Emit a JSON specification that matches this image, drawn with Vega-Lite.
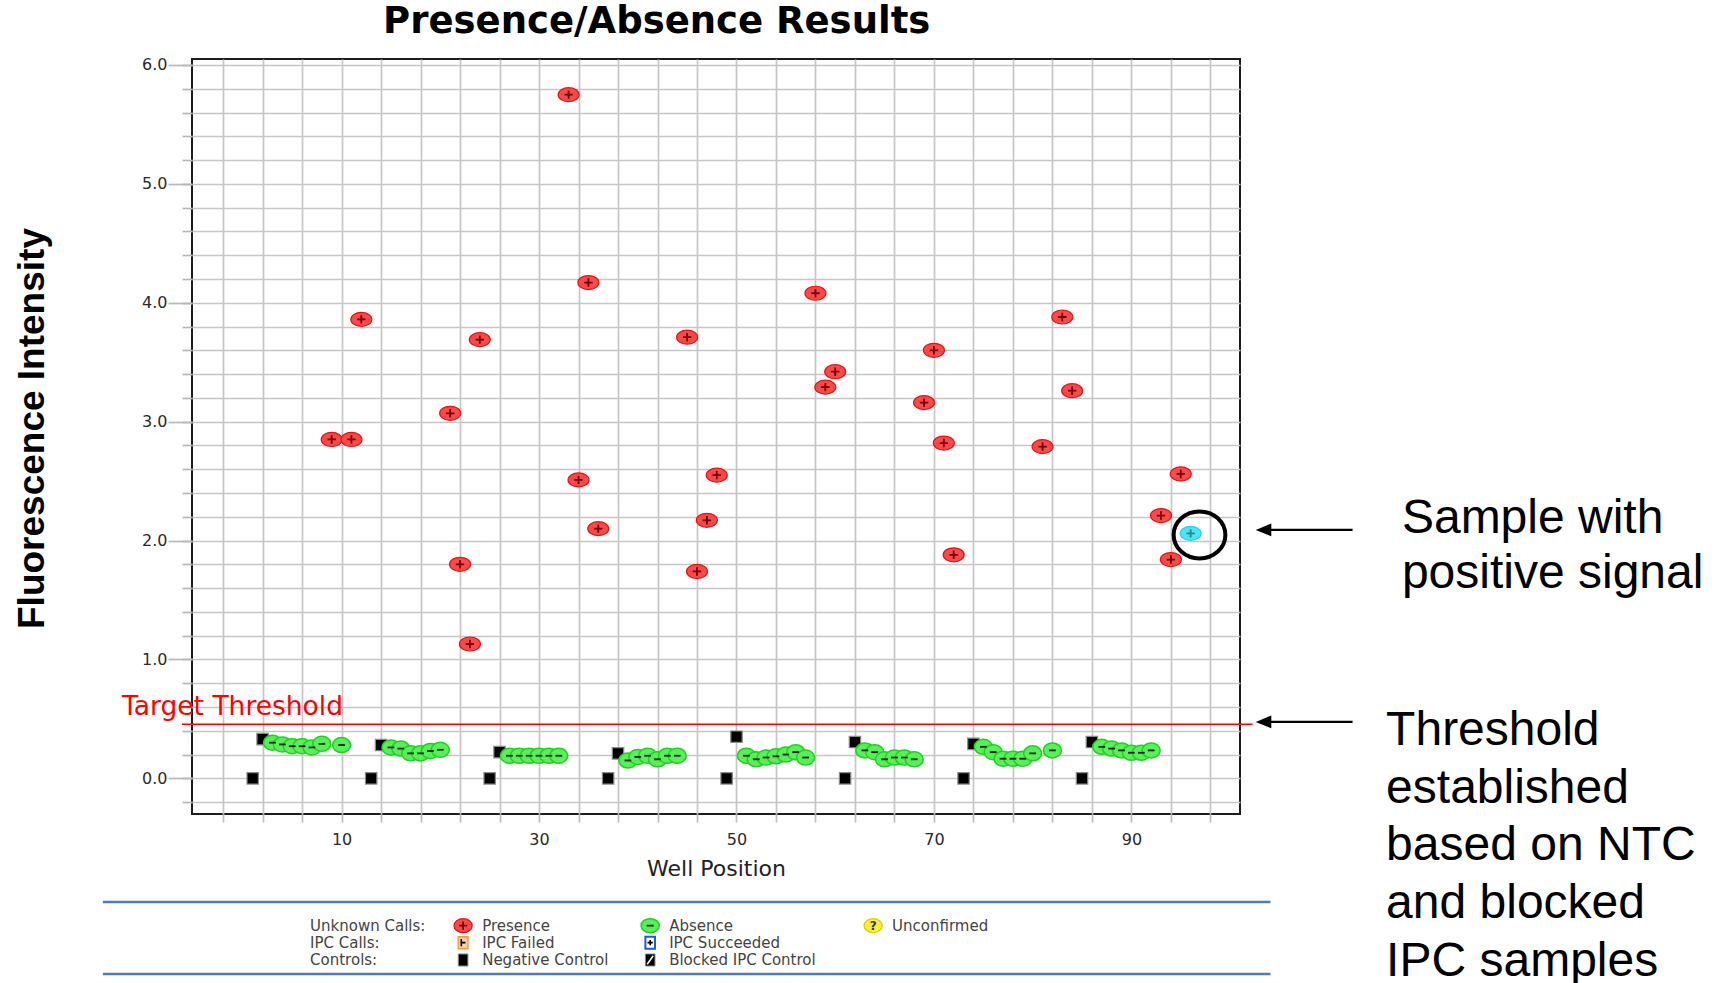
{
  "$schema": "https://vega.github.io/schema/vega-lite/v6.json",
  "width": 1048,
  "height": 755,
  "autosize": {"type": "none"},
  "padding": {"left": 192, "top": 59, "right": 480, "bottom": 169},
  "background": "white",
  "config": {"view": {"stroke": "#1c1c1c", "strokeWidth": 2}, "point": {"opacity": 1}, "text": {"font": "DejaVu Sans"}, "axis": {"labelOverlap": false}},
  "datasets": {
    "wells": [
      {"well": 1, "value": 0.0, "call": "Negative Control"},
      {"well": 2, "value": 0.33, "call": "Blocked IPC Control"},
      {"well": 3, "value": 0.30, "call": "Absence"},
      {"well": 4, "value": 0.285, "call": "Absence"},
      {"well": 5, "value": 0.27, "call": "Absence"},
      {"well": 6, "value": 0.27, "call": "Absence"},
      {"well": 7, "value": 0.26, "call": "Absence"},
      {"well": 8, "value": 0.29, "call": "Absence"},
      {"well": 9, "value": 2.85, "call": "Presence"},
      {"well": 10, "value": 0.28, "call": "Absence"},
      {"well": 11, "value": 2.85, "call": "Presence"},
      {"well": 12, "value": 3.86, "call": "Presence"},
      {"well": 13, "value": 0.0, "call": "Negative Control"},
      {"well": 14, "value": 0.28, "call": "Blocked IPC Control"},
      {"well": 15, "value": 0.26, "call": "Absence"},
      {"well": 16, "value": 0.25, "call": "Absence"},
      {"well": 17, "value": 0.21, "call": "Absence"},
      {"well": 18, "value": 0.21, "call": "Absence"},
      {"well": 19, "value": 0.23, "call": "Absence"},
      {"well": 20, "value": 0.24, "call": "Absence"},
      {"well": 21, "value": 3.07, "call": "Presence"},
      {"well": 22, "value": 1.80, "call": "Presence"},
      {"well": 23, "value": 1.13, "call": "Presence"},
      {"well": 24, "value": 3.69, "call": "Presence"},
      {"well": 25, "value": 0.0, "call": "Negative Control"},
      {"well": 26, "value": 0.22, "call": "Blocked IPC Control"},
      {"well": 27, "value": 0.19, "call": "Absence"},
      {"well": 28, "value": 0.19, "call": "Absence"},
      {"well": 29, "value": 0.19, "call": "Absence"},
      {"well": 30, "value": 0.19, "call": "Absence"},
      {"well": 31, "value": 0.19, "call": "Absence"},
      {"well": 32, "value": 0.19, "call": "Absence"},
      {"well": 33, "value": 5.75, "call": "Presence"},
      {"well": 34, "value": 2.51, "call": "Presence"},
      {"well": 35, "value": 4.17, "call": "Presence"},
      {"well": 36, "value": 2.10, "call": "Presence"},
      {"well": 37, "value": 0.0, "call": "Negative Control"},
      {"well": 38, "value": 0.21, "call": "Blocked IPC Control"},
      {"well": 39, "value": 0.15, "call": "Absence"},
      {"well": 40, "value": 0.18, "call": "Absence"},
      {"well": 41, "value": 0.19, "call": "Absence"},
      {"well": 42, "value": 0.16, "call": "Absence"},
      {"well": 43, "value": 0.19, "call": "Absence"},
      {"well": 44, "value": 0.19, "call": "Absence"},
      {"well": 45, "value": 3.71, "call": "Presence"},
      {"well": 46, "value": 1.74, "call": "Presence"},
      {"well": 47, "value": 2.17, "call": "Presence"},
      {"well": 48, "value": 2.55, "call": "Presence"},
      {"well": 49, "value": 0.0, "call": "Negative Control"},
      {"well": 50, "value": 0.35, "call": "Blocked IPC Control"},
      {"well": 51, "value": 0.19, "call": "Absence"},
      {"well": 52, "value": 0.16, "call": "Absence"},
      {"well": 53, "value": 0.175, "call": "Absence"},
      {"well": 54, "value": 0.185, "call": "Absence"},
      {"well": 55, "value": 0.20, "call": "Absence"},
      {"well": 56, "value": 0.22, "call": "Absence"},
      {"well": 57, "value": 0.175, "call": "Absence"},
      {"well": 58, "value": 4.08, "call": "Presence"},
      {"well": 59, "value": 3.29, "call": "Presence"},
      {"well": 60, "value": 3.42, "call": "Presence"},
      {"well": 61, "value": 0.0, "call": "Negative Control"},
      {"well": 62, "value": 0.305, "call": "Blocked IPC Control"},
      {"well": 63, "value": 0.235, "call": "Absence"},
      {"well": 64, "value": 0.22, "call": "Absence"},
      {"well": 65, "value": 0.16, "call": "Absence"},
      {"well": 66, "value": 0.175, "call": "Absence"},
      {"well": 67, "value": 0.175, "call": "Absence"},
      {"well": 68, "value": 0.16, "call": "Absence"},
      {"well": 69, "value": 3.16, "call": "Presence"},
      {"well": 70, "value": 3.60, "call": "Presence"},
      {"well": 71, "value": 2.82, "call": "Presence"},
      {"well": 72, "value": 1.88, "call": "Presence"},
      {"well": 73, "value": 0.0, "call": "Negative Control"},
      {"well": 74, "value": 0.29, "call": "Blocked IPC Control"},
      {"well": 75, "value": 0.265, "call": "Absence"},
      {"well": 76, "value": 0.22, "call": "Absence"},
      {"well": 77, "value": 0.165, "call": "Absence"},
      {"well": 78, "value": 0.165, "call": "Absence"},
      {"well": 79, "value": 0.165, "call": "Absence"},
      {"well": 80, "value": 0.21, "call": "Absence"},
      {"well": 81, "value": 2.79, "call": "Presence"},
      {"well": 82, "value": 0.235, "call": "Absence"},
      {"well": 83, "value": 3.88, "call": "Presence"},
      {"well": 84, "value": 3.26, "call": "Presence"},
      {"well": 85, "value": 0.0, "call": "Negative Control"},
      {"well": 86, "value": 0.305, "call": "Blocked IPC Control"},
      {"well": 87, "value": 0.265, "call": "Absence"},
      {"well": 88, "value": 0.25, "call": "Absence"},
      {"well": 89, "value": 0.235, "call": "Absence"},
      {"well": 90, "value": 0.215, "call": "Absence"},
      {"well": 91, "value": 0.215, "call": "Absence"},
      {"well": 92, "value": 0.235, "call": "Absence"},
      {"well": 93, "value": 2.21, "call": "Presence"},
      {"well": 94, "value": 1.84, "call": "Presence"},
      {"well": 95, "value": 2.56, "call": "Presence"},
      {"well": 96, "value": 2.06, "call": "Selected"}
    ]
  },
  "resolve": {"axis": {"y": "independent"}},
  "layer": [
    {
      "data": {"name": "wells"},
      "mark": {"type": "point", "opacity": 0},
      "encoding": {
        "y": {
          "field": "value", "type": "quantitative",
          "scale": {"domain": [-0.3, 6.05], "nice": false, "zero": false},
          "axis": {
            "orient": "left",
            "values": [-0.2, 0, 0.2, 0.4, 0.6, 0.8, 1, 1.2, 1.4, 1.6, 1.8, 2, 2.2, 2.4, 2.6, 2.8, 3, 3.2, 3.4, 3.6, 3.8, 4, 4.2, 4.4, 4.6, 4.8, 5, 5.2, 5.4, 5.6, 5.8, 6],
            "grid": true, "gridColor": "#c6c6c6", "gridWidth": 1.7,
            "domain": false, "ticks": true, "tickColor": "#b8b8b8", "tickWidth": 1.7, "tickSize": 10,
            "labels": false, "title": null
          }
        }
      }
    },
    {
      "layer": [
        {
          "data": {"name": "wells"},
          "transform": [{"filter": "datum.call === 'Negative Control' || datum.call === 'Blocked IPC Control'"}],
          "mark": {"type": "point", "shape": "square", "filled": true, "size": 130, "fill": "#000000", "stroke": "#8a8a8a", "strokeWidth": 1.2},
          "encoding": {
            "x": {
              "field": "well", "type": "quantitative",
              "scale": {"domain": [-5.15, 101], "nice": false, "zero": false},
              "axis": {
                "values": [-2, 2, 6, 10, 14, 18, 22, 26, 30, 34, 38, 42, 46, 50, 54, 58, 62, 66, 70, 74, 78, 82, 86, 90, 94, 98],
                "grid": true, "gridColor": "#c6c6c6", "gridWidth": 1.7,
                "domain": false, "ticks": true, "tickColor": "#bdbdbd", "tickWidth": 1.7, "tickSize": 8,
                "labelExpr": "datum.value % 20 === 10 ? datum.label : ''",
                "labelFont": "DejaVu Sans", "labelFontSize": 16, "labelColor": "#2a2a2a", "labelPadding": 9,
                "labelOverlap": false, "labelFlush": false,
                "title": "Well Position", "titleFont": "DejaVu Sans", "titleFontSize": 22, "titleFontWeight": "normal", "titleColor": "#222222",
                "titleY": 54, "titleBaseline": "middle"
              }
            },
            "y": {
              "field": "value", "type": "quantitative",
              "scale": {"domain": [-0.3, 6.05], "nice": false, "zero": false},
              "axis": {
                "orient": "left",
                "values": [0, 1, 2, 3, 4, 5, 6],
                "format": ".1f",
                "grid": false,
                "domain": false, "ticks": true, "tickColor": "#b8b8b8", "tickWidth": 1.7, "tickSize": 24,
                "labelFont": "DejaVu Sans", "labelFontSize": 16, "labelColor": "#2a2a2a", "labelPadding": 1,
                "labelOverlap": false, "labelFlush": false, "labelBound": false,
                "title": "Fluorescence Intensity", "titleFont": "Liberation Sans", "titleFontSize": 37, "titleFontWeight": "bold", "titleColor": "#000000",
                "titleX": -149, "titleY": 369, "titleAngle": 270, "titleAlign": "center", "titleBaseline": "alphabetic"
              }
            }
          }
        },
        {
          "data": {"values": [{}]},
          "mark": {"type": "text", "text": "Presence/Absence Results", "font": "DejaVu Sans", "fontSize": 37, "fontWeight": "bold", "color": "#000000", "align": "center", "baseline": "alphabetic"},
          "encoding": {"x": {"datum": 41.92}, "y": {"datum": 6.269}}
        },
        {
          "data": {"values": [{}]},
          "mark": {"type": "rule", "color": "#ff0000", "strokeWidth": 1.6},
          "encoding": {"x": {"datum": -6.16}, "x2": {"datum": 102.27}, "y": {"datum": 0.455}}
        },
        {
          "data": {"values": [{}]},
          "mark": {"type": "text", "text": "Target Threshold", "font": "DejaVu Sans", "fontSize": 26.5, "color": "#ff0000", "align": "left", "baseline": "alphabetic"},
          "encoding": {"x": {"datum": -12.24}, "y": {"datum": 0.533}}
        },
        {
          "data": {"name": "wells"},
          "transform": [{"filter": "datum.call === 'Absence'"}],
          "mark": {"type": "point", "shape": "M-1.2,0A1.2,1 0 1,0 1.2,0A1.2,1 0 1,0 -1.2,0Z", "filled": true, "size": 225, "fill": "#58f058", "stroke": "#1ed21e", "strokeWidth": 1.5},
          "encoding": {"x": {"field": "well", "type": "quantitative"}, "y": {"field": "value", "type": "quantitative"}}
        },
        {
          "data": {"name": "wells"},
          "transform": [{"filter": "datum.call === 'Absence'"}],
          "mark": {"type": "point", "shape": "M-0.45,0L0.45,0", "filled": false, "size": 225, "stroke": "#1a1a1a", "strokeWidth": 1.8},
          "encoding": {"x": {"field": "well", "type": "quantitative"}, "y": {"field": "value", "type": "quantitative"}}
        },
        {
          "data": {"name": "wells"},
          "transform": [{"filter": "datum.call === 'Presence' || datum.call === 'Selected'"}],
          "mark": {"type": "point", "shape": "M-1.5,0A1.5,1 0 1,0 1.5,0A1.5,1 0 1,0 -1.5,0Z", "filled": true, "size": 196, "strokeWidth": 1.2},
          "encoding": {
            "x": {"field": "well", "type": "quantitative"}, "y": {"field": "value", "type": "quantitative"},
            "fill": {"condition": {"test": "datum.call === 'Selected'", "value": "#48e6f6"}, "value": "#ff4848"},
            "stroke": {"condition": {"test": "datum.call === 'Selected'", "value": "#2fd0e8"}, "value": "#e01414"}
          }
        },
        {
          "data": {"name": "wells"},
          "transform": [{"filter": "datum.call === 'Presence' || datum.call === 'Selected'"}],
          "mark": {"type": "point", "shape": "M-0.6,0L0.6,0M0,-0.6L0,0.6", "filled": false, "size": 196, "strokeWidth": 1.8},
          "encoding": {
            "x": {"field": "well", "type": "quantitative"}, "y": {"field": "value", "type": "quantitative"},
            "stroke": {"condition": {"test": "datum.call === 'Selected'", "value": "#3a7e8a"}, "value": "#6d0000"}
          }
        },
        {
          "data": {"values": [{}]},
          "mark": {"type": "point", "shape": "M-1.1,0A1.1,1 0 1,0 1.1,0A1.1,1 0 1,0 -1.1,0Z", "filled": false, "size": 2209, "stroke": "#000000", "strokeWidth": 4},
          "encoding": {"x": {"datum": 96.9}, "y": {"datum": 2.047}}
        },
        {
          "data": {"values": [{}]},
          "mark": {"type": "rule", "color": "#000000", "strokeWidth": 2.2},
          "encoding": {"x": {"datum": 103.4}, "x2": {"datum": 112.4}, "y": {"datum": 2.089}}
        },
        {
          "data": {"values": [{}]},
          "mark": {"type": "rule", "color": "#000000", "strokeWidth": 2.2},
          "encoding": {"x": {"datum": 103.4}, "x2": {"datum": 112.4}, "y": {"datum": 0.474}}
        },
        {
          "data": {"values": [{}]},
          "mark": {"type": "point", "shape": "M-1.1,0L1.1,-0.9L1.1,0.9Z", "filled": true, "size": 201, "fill": "#000000", "strokeWidth": 0},
          "encoding": {"x": {"datum": 103.38}, "y": {"datum": 2.089}}
        },
        {
          "data": {"values": [{}]},
          "mark": {"type": "point", "shape": "M-1.1,0L1.1,-0.9L1.1,0.9Z", "filled": true, "size": 201, "fill": "#000000", "strokeWidth": 0},
          "encoding": {"x": {"datum": 103.38}, "y": {"datum": 0.474}}
        },
        {
          "data": {"values": [{}]},
          "mark": {"type": "text", "text": "Sample with\npositive signal", "lineBreak": "\n", "lineHeight": 55, "font": "Liberation Sans", "fontSize": 48, "color": "#000000", "align": "left", "baseline": "alphabetic"},
          "encoding": {"x": {"datum": 117.4}, "y": {"datum": 2.061}}
        },
        {
          "data": {"values": [{}]},
          "mark": {"type": "text", "text": "Threshold\nestablished\nbased on NTC\nand blocked\nIPC samples", "lineBreak": "\n", "lineHeight": 57.7, "font": "Liberation Sans", "fontSize": 48, "color": "#000000", "align": "left", "baseline": "alphabetic"},
          "encoding": {"x": {"datum": 115.8}, "y": {"datum": 0.28}}
        },
        {
          "data": {"values": [{}]},
          "mark": {"type": "rule", "color": "#4a7ebb", "strokeWidth": 2.5},
          "encoding": {"x": {"datum": -14.17}, "x2": {"datum": 104.09}, "y": {"datum": -1.04}}
        },
        {
          "data": {"values": [{}]},
          "mark": {"type": "rule", "color": "#4a7ebb", "strokeWidth": 2.5},
          "encoding": {"x": {"datum": -14.17}, "x2": {"datum": 104.09}, "y": {"datum": -1.645}}
        },
        {
          "data": {"values": [{}]},
          "mark": {"type": "text", "text": "Unknown Calls:\nIPC Calls:\nControls:", "lineBreak": "\n", "lineHeight": 17.2, "font": "DejaVu Sans", "fontSize": 15, "color": "#444444", "align": "left", "baseline": "middle"},
          "encoding": {"x": {"datum": 6.81}, "y": {"datum": -1.239}}
        },
        {
          "data": {"values": [{}]},
          "mark": {"type": "text", "text": "Presence\nIPC Failed\nNegative Control", "lineBreak": "\n", "lineHeight": 17.2, "font": "DejaVu Sans", "fontSize": 15, "color": "#444444", "align": "left", "baseline": "middle"},
          "encoding": {"x": {"datum": 24.24}, "y": {"datum": -1.239}}
        },
        {
          "data": {"values": [{}]},
          "mark": {"type": "text", "text": "Absence\nIPC Succeeded\nBlocked IPC Control", "lineBreak": "\n", "lineHeight": 17.2, "font": "DejaVu Sans", "fontSize": 15, "color": "#444444", "align": "left", "baseline": "middle"},
          "encoding": {"x": {"datum": 43.18}, "y": {"datum": -1.239}}
        },
        {
          "data": {"values": [{}]},
          "mark": {"type": "text", "text": "Unconfirmed", "font": "DejaVu Sans", "fontSize": 15, "color": "#444444", "align": "left", "baseline": "middle"},
          "encoding": {"x": {"datum": 65.76}, "y": {"datum": -1.239}}
        },
        {
          "data": {"values": [{}]},
          "mark": {"type": "point", "shape": "M-1.3,0A1.3,1 0 1,0 1.3,0A1.3,1 0 1,0 -1.3,0Z", "filled": true, "size": 196, "fill": "#ff4848", "stroke": "#e01414", "strokeWidth": 1.2},
          "encoding": {"x": {"datum": 22.31}, "y": {"datum": -1.239}}
        },
        {
          "data": {"values": [{}]},
          "mark": {"type": "point", "shape": "M-0.6,0L0.6,0M0,-0.6L0,0.6", "filled": false, "size": 196, "stroke": "#6d0000", "strokeWidth": 1.8},
          "encoding": {"x": {"datum": 22.31}, "y": {"datum": -1.239}}
        },
        {
          "data": {"values": [{}]},
          "mark": {"type": "point", "shape": "M-1.3,0A1.3,1 0 1,0 1.3,0A1.3,1 0 1,0 -1.3,0Z", "filled": true, "size": 196, "fill": "#58f058", "stroke": "#1ed21e", "strokeWidth": 1.5},
          "encoding": {"x": {"datum": 41.26}, "y": {"datum": -1.239}}
        },
        {
          "data": {"values": [{}]},
          "mark": {"type": "point", "shape": "M-0.5,0L0.5,0", "filled": false, "size": 196, "stroke": "#1a1a1a", "strokeWidth": 1.8},
          "encoding": {"x": {"datum": 41.26}, "y": {"datum": -1.239}}
        },
        {
          "data": {"values": [{}]},
          "mark": {"type": "point", "shape": "M-1.3,0A1.3,1 0 1,0 1.3,0A1.3,1 0 1,0 -1.3,0Z", "filled": true, "size": 196, "fill": "#f6f03c", "stroke": "#e0cc00", "strokeWidth": 1.2},
          "encoding": {"x": {"datum": 63.84}, "y": {"datum": -1.239}}
        },
        {
          "data": {"values": [{}]},
          "mark": {"type": "text", "text": "?", "font": "DejaVu Sans", "fontSize": 12, "fontWeight": "bold", "color": "#333333", "align": "center", "baseline": "middle"},
          "encoding": {"x": {"datum": 63.84}, "y": {"datum": -1.239}}
        },
        {
          "data": {"values": [{}]},
          "mark": {"type": "point", "shape": "M-0.8,-1L0.8,-1L0.8,1L-0.8,1Z", "filled": true, "size": 144, "fill": "#ffd2a6", "stroke": "#f39a3c", "strokeWidth": 1.5},
          "encoding": {"x": {"datum": 22.31}, "y": {"datum": -1.382}}
        },
        {
          "data": {"values": [{}]},
          "mark": {"type": "point", "shape": "M-0.3,-0.6L-0.3,0.6M-0.3,0L0.4,0", "filled": false, "size": 144, "stroke": "#000000", "strokeWidth": 1.6},
          "encoding": {"x": {"datum": 22.31}, "y": {"datum": -1.382}}
        },
        {
          "data": {"values": [{}]},
          "mark": {"type": "point", "shape": "M-0.8,-1L0.8,-1L0.8,1L-0.8,1Z", "filled": true, "size": 144, "fill": "#ffffff", "stroke": "#1f5bd6", "strokeWidth": 2},
          "encoding": {"x": {"datum": 41.26}, "y": {"datum": -1.382}}
        },
        {
          "data": {"values": [{}]},
          "mark": {"type": "point", "shape": "M-0.45,0L0.45,0M0,-0.45L0,0.45", "filled": false, "size": 144, "stroke": "#000000", "strokeWidth": 1.6},
          "encoding": {"x": {"datum": 41.26}, "y": {"datum": -1.382}}
        },
        {
          "data": {"values": [{}]},
          "mark": {"type": "point", "shape": "M-0.8,-1L0.8,-1L0.8,1L-0.8,1Z", "filled": true, "size": 144, "fill": "#000000", "stroke": "#888888", "strokeWidth": 1},
          "encoding": {"x": {"datum": 22.31}, "y": {"datum": -1.528}}
        },
        {
          "data": {"values": [{}]},
          "mark": {"type": "point", "shape": "M-0.8,-1L0.8,-1L0.8,1L-0.8,1Z", "filled": true, "size": 144, "fill": "#000000", "stroke": "#888888", "strokeWidth": 1},
          "encoding": {"x": {"datum": 41.26}, "y": {"datum": -1.528}}
        },
        {
          "data": {"values": [{}]},
          "mark": {"type": "point", "shape": "M-0.5,0.7L0.5,-0.7", "filled": false, "size": 144, "stroke": "#ffffff", "strokeWidth": 1.5},
          "encoding": {"x": {"datum": 41.26}, "y": {"datum": -1.528}}
        }
      ]
    }
  ]
}
